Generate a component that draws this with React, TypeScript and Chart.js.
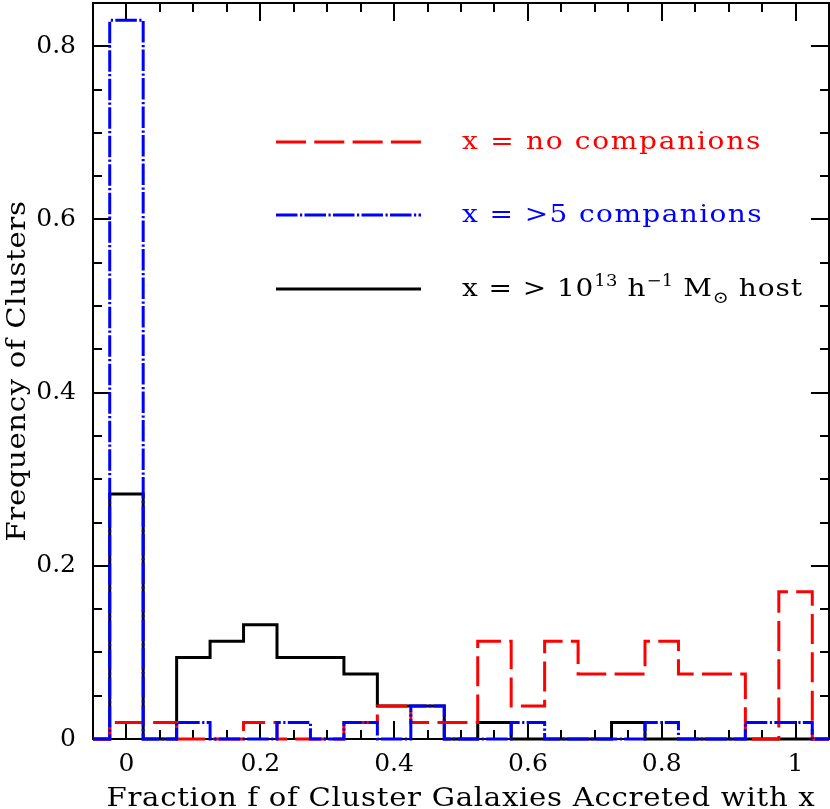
import React, { useEffect, useRef } from "react";
import { Chart, registerables } from "chart.js";

Chart.register(...registerables);

// ---- data ----
const binCenters = [0, 0.05, 0.1, 0.15, 0.2, 0.25, 0.3, 0.35, 0.4, 0.45, 0.5, 0.55, 0.6, 0.65, 0.7, 0.75, 0.8, 0.85, 0.9, 0.95, 1.0];
const binWidth = 0.05;
const noCompanions = [0.019, 0.019, 0, 0, 0.019, 0, 0, 0.019, 0.038, 0.019, 0.019, 0.113, 0.038, 0.113, 0.075, 0.075, 0.113, 0.075, 0.075, 0, 0.17];
const manyCompanions = [0.83, 0, 0.019, 0, 0, 0.019, 0, 0.019, 0, 0.038, 0, 0, 0.019, 0, 0, 0, 0.019, 0, 0, 0.019, 0.019];
const massiveHost = [0.283, 0, 0.094, 0.113, 0.132, 0.094, 0.094, 0.075, 0.038, 0.038, 0, 0.019, 0, 0, 0, 0.019, 0, 0, 0, 0, 0];
const xMajorTicks = [0, 0.2, 0.4, 0.6, 0.8, 1];
const yMajorTicks = [0, 0.2, 0.4, 0.6, 0.8];
const xRange = [-0.05, 1.05];
const yRange = [0, 0.85];
const minorStep = 0.05;
const xTitle = "Fraction f of Cluster Galaxies Accreted with x";
const yTitle = "Frequency of Clusters";
const labelNoCompanions = [{ t: "x = no companions", s: "n" }];
const labelManyCompanions = [{ t: "x = >5 companions", s: "n" }];
const labelHost = [
  { t: "x = > 10", s: "n" },
  { t: "13", s: "sup" },
  { t: " h", s: "n" },
  { t: "\u22121", s: "sup" },
  { t: " M", s: "n" },
  { t: "\u2299", s: "sub" },
  { t: " host", s: "n" },
];

const FONT = "'DejaVu Serif', serif";
const SX = 1.12;

function stepPoints(values: number[]) {
  const pts: { x: number; y: number }[] = [{ x: xRange[0], y: 0 }];
  binCenters.forEach((c, i) => pts.push({ x: c - binWidth / 2, y: values[i] }));
  pts.push({ x: binCenters[binCenters.length - 1] + binWidth / 2, y: 0 });
  pts.push({ x: xRange[1], y: 0 });
  return pts;
}

const framePlugin = {
  id: "frameTicks",
  beforeDatasetsDraw(chart: any) {
    const { ctx, chartArea: a, scales } = chart;
    const xs = scales.x;
    const ys = scales.y;
    const isMajor = (v: number, majors: number[]) => majors.some((m) => Math.abs(m - v) < 1e-6);
    ctx.save();
    ctx.strokeStyle = "#000";
    ctx.lineWidth = 2;
    ctx.strokeRect(a.left, a.top, a.right - a.left, a.bottom - a.top);
    ctx.beginPath();
    const kx0 = Math.ceil(xRange[0] / minorStep - 1e-6);
    const kx1 = Math.floor(xRange[1] / minorStep + 1e-6);
    for (let k = kx0; k <= kx1; k++) {
      const v = k * minorStep;
      const px = Math.round(xs.getPixelForValue(v));
      if (px <= a.left + 2 || px >= a.right - 2) continue;
      const len = isMajor(v, xMajorTicks) ? 18 : 9;
      ctx.moveTo(px, a.bottom);
      ctx.lineTo(px, a.bottom - len);
      ctx.moveTo(px, a.top);
      ctx.lineTo(px, a.top + len);
    }
    const ky0 = Math.ceil(yRange[0] / minorStep - 1e-6);
    const ky1 = Math.floor(yRange[1] / minorStep + 1e-6);
    for (let k = ky0; k <= ky1; k++) {
      const v = k * minorStep;
      const py = Math.round(ys.getPixelForValue(v));
      if (py <= a.top + 2 || py >= a.bottom - 2) continue;
      const len = isMajor(v, yMajorTicks) ? 18 : 9;
      ctx.moveTo(a.left, py);
      ctx.lineTo(a.left + len, py);
      ctx.moveTo(a.right, py);
      ctx.lineTo(a.right - len, py);
    }
    ctx.stroke();
    ctx.restore();
  },
};

// draws text horizontally stretched by SX, with extra letter spacing so that it spans targetWidth
function drawWide(ctx: any, text: string, x: number, y: number, targetWidth: number) {
  ctx.letterSpacing = "0px";
  const natural = ctx.measureText(text).width;
  const ls = (targetWidth / SX - natural) / text.length;
  ctx.save();
  ctx.translate(x, y);
  ctx.scale(SX, 1);
  ctx.letterSpacing = ls + "px";
  ctx.textAlign = "left";
  ctx.fillText(text, 0, 0);
  ctx.restore();
  ctx.letterSpacing = "0px";
}

function runFont(s: string) {
  if (s === "sup") return `16px ${FONT}`;
  if (s === "sub") return `17px ${FONT}`;
  return `25px ${FONT}`;
}

const legendPlugin = {
  id: "runLegend",
  afterDatasetsDraw(chart: any) {
    const { ctx } = chart;
    const entries = [
      { ds: chart.data.datasets[1], runs: labelNoCompanions, y: 142, w: 300 },
      { ds: chart.data.datasets[0], runs: labelManyCompanions, y: 215, w: 301 },
      { ds: chart.data.datasets[2], runs: labelHost, y: 289, w: 341 },
    ];
    ctx.save();
    for (const e of entries) {
      ctx.strokeStyle = e.ds.borderColor;
      ctx.lineWidth = e.ds.borderWidth;
      ctx.setLineDash(e.ds.borderDash || []);
      ctx.beginPath();
      ctx.moveTo(276, e.y);
      ctx.lineTo(421, e.y);
      ctx.stroke();
      ctx.setLineDash([]);
      ctx.fillStyle = e.ds.borderColor;
      ctx.textAlign = "left";
      ctx.textBaseline = "alphabetic";
      // measure runs to find letter spacing that makes the label span e.w
      ctx.letterSpacing = "0px";
      let sumW = 0;
      let sumN = 0;
      const widths = e.runs.map((r: any) => {
        ctx.font = runFont(r.s);
        const w = ctx.measureText(r.t).width;
        sumW += w;
        sumN += (r.s === "n" ? 1 : 0.3) * r.t.length;
        return w;
      });
      const ls = (e.w / SX - sumW) / sumN;
      let x = 462;
      const base = e.y + 7;
      e.runs.forEach((r: any, i: number) => {
        const dy = r.s === "sup" ? -10 : r.s === "sub" ? 7 : 0;
        ctx.font = runFont(r.s);
        const rls = r.s === "n" ? ls : ls * 0.3;
        ctx.save();
        ctx.translate(x, base + dy);
        ctx.scale(SX, 1);
        ctx.letterSpacing = rls + "px";
        ctx.fillText(r.t, 0, 0);
        ctx.restore();
        ctx.letterSpacing = "0px";
        x += SX * (widths[i] + rls * r.t.length);
      });
    }
    ctx.restore();
  },
};

const titlePlugin = {
  id: "axisTitles",
  afterDraw(chart: any) {
    const { ctx, chartArea: a } = chart;
    ctx.save();
    ctx.fillStyle = "#000";
    ctx.font = `26px ${FONT}`;
    ctx.textBaseline = "alphabetic";
    const wx = 709;
    drawWide(ctx, xTitle, (a.left + a.right) / 2 - wx / 2, 806, wx);
    ctx.translate(25, (a.top + a.bottom) / 2);
    ctx.rotate(-Math.PI / 2);
    const wy = 341;
    drawWide(ctx, yTitle, -wy / 2, 0, wy);
    ctx.restore();
  },
};

export default function App() {
  const ref = useRef<HTMLCanvasElement | null>(null);
  useEffect(() => {
    if (!ref.current) return;
    const chart = new Chart(ref.current, {
      type: "line",
      data: {
        datasets: [
          {
            label: "x = >5 companions",
            data: stepPoints(manyCompanions),
            borderColor: "#0000ff",
            borderWidth: 3,
            borderDash: [21.5, 2.5, 2.2, 2.3],
            stepped: true,
            pointRadius: 0,
            fill: false,
            clip: false,
          } as any,
          {
            label: "x = no companions",
            data: stepPoints(noCompanions),
            borderColor: "#ff0000",
            borderWidth: 3,
            borderDash: [30, 8.3],
            stepped: true,
            pointRadius: 0,
            fill: false,
            clip: false,
          } as any,
          {
            label: "x = > 10^13 h^-1 Msun host",
            data: stepPoints(massiveHost),
            borderColor: "#000000",
            borderWidth: 3,
            stepped: true,
            pointRadius: 0,
            fill: false,
            clip: false,
          } as any,
        ],
      },
      options: {
        animation: false,
        responsive: false,
        devicePixelRatio: 1,
        layout: { padding: { top: 3, right: 1, left: 0, bottom: 0 } },
        plugins: { legend: { display: false }, tooltip: { enabled: false } },
        scales: {
          x: {
            type: "linear",
            min: xRange[0],
            max: xRange[1],
            grid: { display: false, drawTicks: false },
            border: { display: false },
            afterBuildTicks: (s: any) => {
              s.ticks = xMajorTicks.map((v) => ({ value: v }));
            },
            afterFit: (s: any) => {
              s.height = 70;
              s.paddingLeft = 0;
              s.paddingRight = 0;
              s.paddingTop = 0;
              s.paddingBottom = 0;
            },
            ticks: {
              color: "#000",
              padding: 10,
              maxRotation: 0,
              autoSkip: false,
              font: { family: FONT, size: 25 },
              callback: (v: any) => String(Math.round(Number(v) * 100) / 100),
            },
          },
          y: {
            type: "linear",
            min: yRange[0],
            max: yRange[1],
            grid: { display: false, drawTicks: false },
            border: { display: false },
            afterBuildTicks: (s: any) => {
              s.ticks = yMajorTicks.map((v) => ({ value: v }));
            },
            afterFit: (s: any) => {
              s.width = 93;
              s.paddingTop = 0;
              s.paddingBottom = 0;
              s.paddingLeft = 0;
              s.paddingRight = 0;
            },
            ticks: {
              color: "#000",
              padding: 17,
              autoSkip: false,
              font: { family: FONT, size: 25 },
              callback: (v: any) => String(Math.round(Number(v) * 100) / 100),
            },
          },
        },
      } as any,
      plugins: [framePlugin, legendPlugin, titlePlugin],
    });
    return () => chart.destroy();
  }, []);
  return (
    <canvas
      ref={ref}
      width={830}
      height={809}
      style={{ position: "absolute", left: 0, top: 0, width: 830, height: 809, background: "#fff" }}
    />
  );
}
